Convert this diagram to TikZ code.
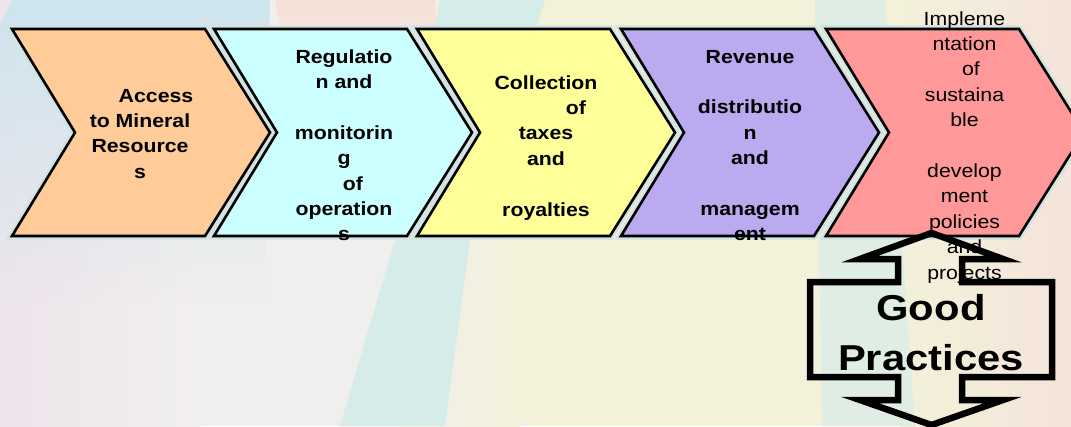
\documentclass[tikz,border=0pt]{standalone}
\usepackage{fontspec}
\setmainfont{Liberation Sans}
\newfontfamily\stagefont[FakeStretch=1.12]{Liberation Sans}
\newfontfamily\badgefont[FakeStretch=1.16]{Liberation Sans}
\usetikzlibrary{fadings}

\definecolor{accessfill}{RGB}{255,204,153}
\definecolor{regfill}{RGB}{204,255,255}
\definecolor{collfill}{RGB}{255,255,153}
\definecolor{revfill}{RGB}{187,170,240}
\definecolor{implfill}{RGB}{255,153,153}
\definecolor{halo}{RGB}{212,226,226}
% slide wash
\definecolor{bgcream}{RGB}{243,241,218}
\definecolor{bgwhite}{RGB}{241,239,237}
\definecolor{bglilac}{RGB}{237,228,236}
\definecolor{bgcyan}{RGB}{214,236,232}
\definecolor{bgblue}{RGB}{206,229,238}
\definecolor{bgpeach}{RGB}{244,228,218}

% one chevron, #1 is its left edge
\newcommand{\chevronpath}[1]{(#1,29) -- ++(193,0) -- ++(65,103.5) -- ++(-65,103.5)
  -- ++(-193,0) -- ++(63,-103.5) -- cycle}

\tikzset{
  stage/.style={
    % The border:
    draw=black, line width=2.6pt, line join=miter,
    % The light rim:
    preaction={draw=halo, line width=7.4pt}},
  stage text/.style={
    anchor=north, inner sep=0pt, align=center,
    font=\stagefont\bfseries\fontsize{19}{25.4}\selectfont},
  plain text/.style={
    stage text,
    font=\stagefont\fontsize{19}{25.4}\selectfont},
  badge/.style={
    draw=black, line width=6.5pt, line join=miter},
  badge text/.style={
    anchor=north, inner sep=0pt, align=center,
    font=\badgefont\bfseries\fontsize{36}{50}\selectfont}
}

\begin{document}
\begin{tikzpicture}[x=1pt,y=-1pt]
  \useasboundingbox (0,0) rectangle (1071,426);
  \clip (0,0) rectangle (1071,426);

  % background
  \fill[bgcream] (0,0) rectangle (1071,426);
  \shade[left color=bglilac,right color=bgwhite] (0,0) rectangle (200,426);
  \fill[bgwhite] (200,0) rectangle (400,426);
  \shade[left color=bgwhite,right color=bgcream] (400,0) rectangle (520,426);
  \shade[left color=bgcream,right color=bgpeach] (900,0) rectangle (1071,426);
  \fill[bgblue,path fading=south] (12,0) -- (270,0) -- (265,300) -- (0,300) -- (0,25) -- cycle;
  \fill[bgpeach!85!pink,path fading=south] (275,0) -- (435,0) -- (440,60) -- (285,60) -- cycle;
  \fill[bgcyan] (440,0) -- (545,0) -- (470,240) -- (445,426) -- (340,426) -- (395,240) -- cycle;
  \fill[bgcyan!70!bgcream] (815,0) -- (885,0) -- (915,426) -- (822,426) -- cycle;

  % the value chain
  \draw[stage,fill=accessfill] \chevronpath{12};
  \draw[stage,fill=regfill]    \chevronpath{214};
  \draw[stage,fill=collfill]   \chevronpath{417};
  \draw[stage,fill=revfill]    \chevronpath{621};
  \draw[stage,fill=implfill]   \chevronpath{826};

  \node (access) [stage text] at (140,84.2)
    {\strut\hspace*{32pt}Access\\to Mineral\\Resource\\s};
  \node (regulation) [stage text] at (344,45.2)
    {\strut Regulatio\\n and\\[25.4pt]monitorin\\g\\\hspace*{18pt}of\\operation\\s};
  \node (collection) [stage text] at (546,71.2)
    {\strut Collection\\\hspace*{60pt}of\\taxes\\and\\[25.4pt]royalties};
  \node (revenue) [stage text] at (750,45.2)
    {\strut Revenue\\[25.4pt]distributio\\n\\and\\[25.4pt]managem\\ent};
  \node (implementation) [plain text] at (964.5,7.2)
    {\strut Impleme\\ntation\\\hspace*{13pt}of\\sustaina\\ble\\[25.4pt]develop\\ment\\policies\\and\\projects};

  % up and down arrow
  \draw[badge] (931.5,233) -- (1003,259) -- (962,259) -- (962,282) -- (1052,282)
    -- (1052,377) -- (962,377) -- (962,400) -- (1003,400) -- (931.5,425)
    -- (860,400) -- (898,400) -- (898,377) -- (810,377) -- (810,282)
    -- (898,282) -- (898,259) -- (860,259) -- cycle;
  \node (practices) [badge text] at (931,285) {\strut Good\\Practices};
\end{tikzpicture}
\end{document}
